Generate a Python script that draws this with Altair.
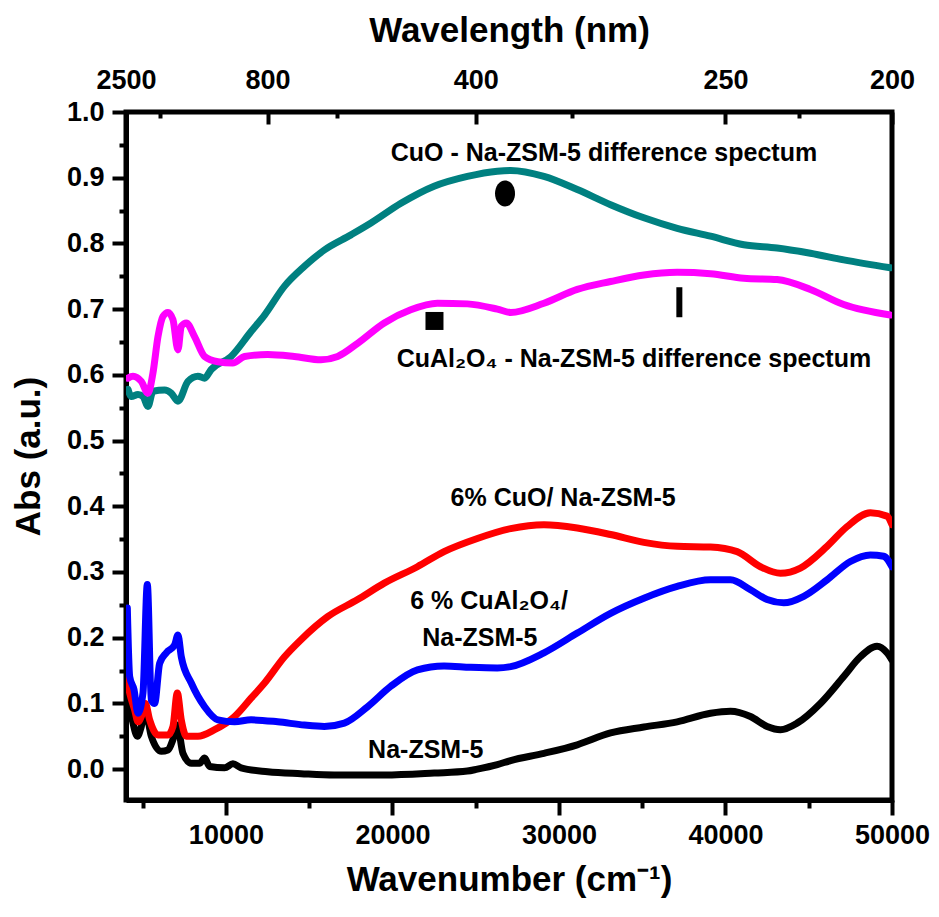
import altair as alt
import pandas as pd

FONT = "Liberation Sans"

# ---------------- data (wavenumber cm-1, absorbance) ----------------
na_x = [4020, 4320, 4680, 4920, 5160, 5520, 6120, 6520, 6820, 7080, 7420, 7920, 8420, 8720, 9020,
        9920, 10420, 10910, 12510, 14510, 16510, 19510, 22510, 24500, 25100, 26300, 27100, 29100,
        31100, 33100, 35100, 37100, 39100, 40300, 41500, 42500, 43300, 44300, 45700, 47100, 48100,
        49100, 49700, 50000]
na_y = [0.100, 0.080, 0.050, 0.065, 0.090, 0.050, 0.027, 0.029, 0.045, 0.067, 0.024, 0.009, 0.009,
        0.017, 0.004, 0.002, 0.008, 0.002, -0.004, -0.007, -0.009, -0.009, -0.006, -0.003, 0.000,
        0.007, 0.013, 0.024, 0.037, 0.055, 0.064, 0.072, 0.085, 0.088, 0.080, 0.065, 0.060, 0.070,
        0.100, 0.141, 0.171, 0.187, 0.177, 0.166]

cuo_x = [4020, 4220, 4520, 4720, 4920, 5160, 5420, 5920, 6520, 6820, 7080, 7320, 7620, 8320, 9320,
         10520, 11510, 12320, 13520, 14510, 16110, 17910, 19510, 21500, 23100, 25100, 27100, 29100,
         31100, 33100, 35100, 37100, 39100, 40700, 42100, 43300, 44500, 46100, 47300, 48700, 49700,
         50000]
cuo_y = [0.141, 0.116, 0.090, 0.072, 0.080, 0.100, 0.075, 0.052, 0.052, 0.065, 0.116, 0.075, 0.050,
         0.050, 0.060, 0.080, 0.108, 0.131, 0.171, 0.197, 0.232, 0.258, 0.283, 0.308, 0.331, 0.351,
         0.366, 0.372, 0.367, 0.357, 0.345, 0.339, 0.338, 0.331, 0.308, 0.298, 0.306, 0.339, 0.369,
         0.390, 0.385, 0.372]

cual_x = [4080, 4220, 4480, 4720, 5020, 5280, 5520, 5720, 6020, 6420, 6920, 7120, 7320, 7920, 8720,
          9520, 10520, 11510, 13110, 14710, 15910, 17110, 18510, 19900, 21500, 23100, 24700, 26300,
          27100, 29100, 31100, 33100, 35100, 37100, 39100, 40300, 41500, 42500, 43500, 44700, 46100,
          47500, 48700, 49500, 50000]
cual_y = [0.245, 0.141, 0.121, 0.085, 0.116, 0.281, 0.105, 0.100, 0.161, 0.177, 0.189, 0.204, 0.171,
          0.131, 0.095, 0.075, 0.072, 0.075, 0.072, 0.067, 0.065, 0.070, 0.095, 0.126, 0.151, 0.157,
          0.155, 0.154, 0.156, 0.177, 0.207, 0.237, 0.260, 0.278, 0.288, 0.288, 0.273, 0.258, 0.253,
          0.263, 0.288, 0.316, 0.326, 0.324, 0.308]

dcuo_x = [4120, 4320, 4720, 5020, 5320, 5620, 6320, 6720, 7120, 7720, 8320, 8720, 9110, 10310, 11510,
          12320, 13520, 14710, 15910, 17510, 18710, 20510, 22500, 24500, 26300, 27100, 29100, 31100,
          33100, 35100, 37100, 39100, 41100, 43100, 45100, 47100, 49900]
dcuo_y = [0.578, 0.567, 0.570, 0.567, 0.552, 0.575, 0.577, 0.572, 0.560, 0.590, 0.598, 0.595, 0.608,
          0.628, 0.666, 0.691, 0.735, 0.765, 0.790, 0.813, 0.831, 0.861, 0.887, 0.902, 0.910, 0.911,
          0.902, 0.882, 0.859, 0.839, 0.823, 0.811, 0.798, 0.793, 0.785, 0.775, 0.763]

dcual_x = [4120, 4420, 4920, 5320, 5620, 5920, 6220, 6520, 6820, 7120, 7320, 7620, 8120, 8720, 9520,
           10410, 11120, 12510, 14110, 15710, 16710, 17910, 19510, 21100, 22700, 24500, 26300, 27100,
           29100, 31100, 33100, 35100, 37100, 39100, 41100, 43100, 45100, 47100, 49900]
dcual_y = [0.595, 0.598, 0.590, 0.572, 0.603, 0.658, 0.689, 0.695, 0.684, 0.638, 0.674, 0.679, 0.658,
           0.628, 0.620, 0.618, 0.628, 0.631, 0.628, 0.623, 0.628, 0.648, 0.679, 0.699, 0.709, 0.708,
           0.700, 0.695, 0.709, 0.730, 0.742, 0.752, 0.756, 0.754, 0.747, 0.745, 0.730, 0.707, 0.691]

series_names = ["Na-ZSM-5", "6% CuO/ Na-ZSM-5", "6 % CuAl2O4/ Na-ZSM-5",
                "CuO - Na-ZSM-5", "CuAl2O4 - Na-ZSM-5"]
series_x = [na_x, cuo_x, cual_x, dcuo_x, dcual_x]
series_y = [na_y, cuo_y, cual_y, dcuo_y, dcual_y]
series_colors = ["#000000", "#FF0000", "#0000FF", "#008080", "#FF00FF"]

# annotation texts
ann_text = ["CuO - Na-ZSM-5 difference spectum",
            "CuAl\u2082O\u2084 - Na-ZSM-5 difference spectum",
            "6% CuO/ Na-ZSM-5",
            "6 % CuAl\u2082O\u2084/",
            "Na-ZSM-5",
            "Na-ZSM-5"]
ann_x = [32700, 34500, 30250, 25800, 25250, 22000]
ann_y = [0.938, 0.624, 0.413, 0.256, 0.200, 0.029]

# band markers
mark_x = [26760, 22525, 37230]
mark_y = [0.876, 0.682, 0.7105]
mark_shape = ["M0,-1.3A1,1.3,0,1,1,0,1.3A1,1.3,0,1,1,0,-1.3Z",
              "square",
              "M-0.2,-1L0.2,-1L0.2,1L-0.2,1Z"]
mark_size = [400, 324, 900]

# ticks
x_major = [10000, 20000, 30000, 40000, 50000]
x_minor = [5000, 15000, 25000, 35000, 45000]
y_major = [0.0, 0.1, 0.2, 0.3, 0.4, 0.5, 0.6, 0.7, 0.8, 0.9, 1.0]
y_minor = [0.05, 0.15, 0.25, 0.35, 0.45, 0.55, 0.65, 0.75, 0.85, 0.95]
top_major_nm = [2500, 800, 400, 250, 200]
top_minor_nm = [1650, 600, 325, 225]

X_DOM = [4000, 50000]
Y_DOM = [-0.047, 1.0]

# ---------------- chart ----------------
xs = alt.Scale(domain=X_DOM, nice=False, zero=False)
ys = alt.Scale(domain=Y_DOM, nice=False, zero=False)

frames = []
for n, xv, yv in zip(series_names, series_x, series_y):
    frames.append(pd.DataFrame({"series": n, "x": xv, "y": yv}))
all_df = pd.concat(frames, ignore_index=True)

lab = dict(labelFont=FONT, labelFontSize=27, labelFontWeight="bold", labelColor="black",
           labelFlush=False, labelOverlap=False,
           titleFont=FONT, titleFontWeight="bold", titleColor="black", grid=False,
           tickColor="black", tickWidth=4, domainColor="black")

layers = []
for n, xv, yv, c in zip(series_names, series_x, series_y, series_colors):
    df = pd.DataFrame({"x": xv, "y": yv})
    layers.append(
        alt.Chart(df).mark_line(color=c, strokeWidth=7, interpolate="monotone",
                                strokeJoin="round", strokeCap="round", clip=True)
        .encode(x=alt.X("x:Q", scale=xs, axis=None), y=alt.Y("y:Q", scale=ys, axis=None))
    )

# axes
bottom_major = alt.Chart(all_df).mark_point(opacity=0).encode(
    x=alt.X("x:Q", scale=xs, axis=alt.Axis(
        orient="bottom", values=x_major, format="d", title="Wavenumber (cm\u207b\u00b9)",
        tickSize=15, domain=True, domainWidth=5, labelPadding=7, titleFontSize=35,
        titlePadding=14, **lab)),
    y=alt.Y("y:Q", scale=ys, axis=alt.Axis(
        orient="left", values=y_major, format=".1f", title="Abs (a.u.)",
        tickSize=14, domain=True, domainWidth=5, labelPadding=8, titleFontSize=35,
        titlePadding=20, **lab)),
)
bottom_minor = alt.Chart(all_df).mark_point(opacity=0).encode(
    x=alt.X("x:Q", scale=xs, axis=alt.Axis(
        orient="bottom", values=x_minor, labels=False, title=None, tickSize=8,
        domain=False, **lab)),
    y=alt.Y("y:Q", scale=ys, axis=alt.Axis(
        orient="left", values=y_minor, labels=False, title=None, tickSize=7,
        domain=False, **lab)),
)
top_major = alt.Chart(all_df).mark_point(opacity=0).encode(
    x=alt.X("x:Q", scale=xs, axis=alt.Axis(
        orient="top", values=[1e7 / v for v in top_major_nm],
        labelExpr="format(10000000 / datum.value, 'd')", title="Wavelength (nm)",
        offset=-12, tickSize=12, domain=False, labelPadding=18, titleFontSize=35,
        titlePadding=18, **lab)),
    y=alt.Y("y:Q", scale=ys, axis=None),
)
top_minor = alt.Chart(all_df).mark_point(opacity=0).encode(
    x=alt.X("x:Q", scale=xs, axis=alt.Axis(
        orient="top", values=[1e7 / v for v in top_minor_nm], labels=False, title=None,
        offset=-6, tickSize=6, domain=False, **lab)),
    y=alt.Y("y:Q", scale=ys, axis=None),
)

ann_df = pd.DataFrame({"text": ann_text, "x": ann_x, "y": ann_y})
texts = alt.Chart(ann_df).mark_text(font=FONT, fontSize=25, fontWeight="bold", color="black",
                                     align="center", baseline="middle").encode(
    x=alt.X("x:Q", scale=xs, axis=None), y=alt.Y("y:Q", scale=ys, axis=None), text="text:N")

marker_layers = []
for mx, my, sh, sz in zip(mark_x, mark_y, mark_shape, mark_size):
    mdf = pd.DataFrame({"x": [mx], "y": [my]})
    marker_layers.append(
        alt.Chart(mdf).mark_point(shape=sh, size=sz, filled=True, color="black", opacity=1)
        .encode(x=alt.X("x:Q", scale=xs, axis=None), y=alt.Y("y:Q", scale=ys, axis=None))
    )

chart = alt.layer(bottom_major, bottom_minor, top_major, top_minor, *layers, texts,
                  *marker_layers).resolve_axis(x="independent", y="independent").properties(
    width=766, height=688,
    autosize=alt.AutoSizeParams(type="none"),
    padding={"left": 118, "top": 104, "right": 39, "bottom": 109},
).configure_view(stroke="black", strokeWidth=5)

chart.save("out.html", embed_options={"renderer": "svg", "actions": False})
